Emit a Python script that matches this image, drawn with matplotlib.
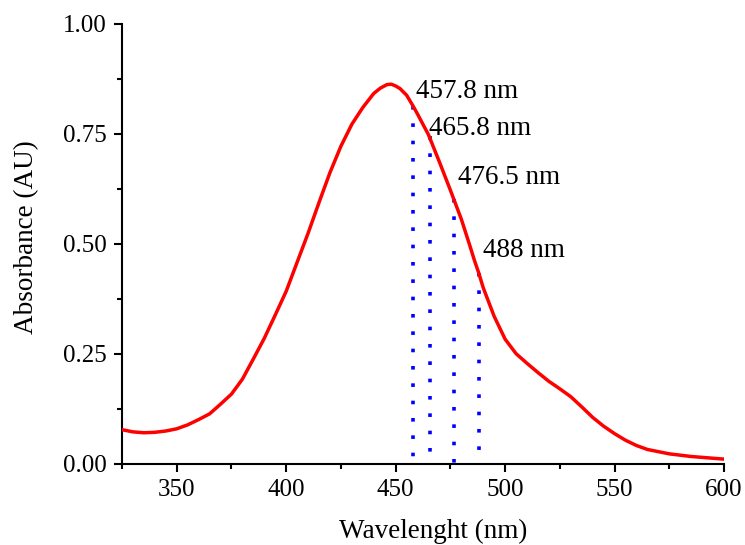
import matplotlib
matplotlib.use("Agg")
import matplotlib.pyplot as plt
from matplotlib.ticker import MultipleLocator, FormatStrFormatter

# absorption spectrum
wavelength = [325, 330, 335, 340, 345, 350, 355, 360, 365, 370,
              375, 380, 385, 390, 395, 400, 405, 410, 415, 420,
              425, 430, 435, 440, 443, 446, 448, 450, 452, 455,
              458, 460, 465, 470, 475, 480, 484, 486, 488, 490,
              495, 500, 505, 510, 515, 520, 525, 530, 535, 540,
              545, 550, 555, 560, 565, 570, 575, 580, 585, 590,
              595, 600]
absorbance = [0.077, 0.072, 0.070, 0.071, 0.074, 0.079, 0.088, 0.100, 0.113, 0.135,
              0.158, 0.192, 0.238, 0.285, 0.338, 0.392, 0.458, 0.524, 0.594, 0.662,
              0.722, 0.772, 0.810, 0.842, 0.854, 0.862, 0.863, 0.859, 0.853, 0.838,
              0.813, 0.795, 0.748, 0.686, 0.622, 0.556, 0.494, 0.462, 0.433, 0.400,
              0.335, 0.283, 0.250, 0.228, 0.207, 0.187, 0.170, 0.152, 0.129, 0.105,
              0.085, 0.068, 0.053, 0.041, 0.032, 0.027, 0.022, 0.019, 0.016, 0.014,
              0.012, 0.010]

# laser lines marked on the spectrum
laser_nm = [457.8, 465.8, 476.5, 488]
laser_abs = [0.813, 0.746, 0.602, 0.433]
laser_labels = ["457.8 nm", "465.8 nm", "476.5 nm", "488 nm"]
label_x = [459.2, 465.4, 478.6, 490.1]
label_y = [0.847, 0.763, 0.650, 0.485]

plt.rcParams['font.family'] = ['Liberation Serif', 'DejaVu Serif']

fig = plt.figure(figsize=(7.45, 5.45), dpi=100)
ax = fig.add_axes([0.1638, 0.1495, 0.8080, 0.8065])

ax.plot(wavelength, absorbance, color='#ff0000', lw=2.5, zorder=3)
# start the dotted lines at the curve so the top dot sits on it
ax.vlines(laser_nm, laser_abs, 0, colors='#0000ff', lw=2.6,
          linestyles=(0, (1.0, 3.8)), zorder=2)
for x, y, s in zip(label_x, label_y, laser_labels):
    ax.text(x, y, s, ha='left', va='center', fontsize=19.5)

ax.set_xlim(325, 600)
ax.set_ylim(0, 1.0)
ax.xaxis.set_major_locator(MultipleLocator(50))
ax.xaxis.set_minor_locator(MultipleLocator(25))
ax.yaxis.set_major_locator(MultipleLocator(0.25))
ax.yaxis.set_minor_locator(MultipleLocator(0.125))
ax.yaxis.set_major_formatter(FormatStrFormatter('%.2f'))

for side in ['top', 'right']:
    ax.spines[side].set_visible(False)
for side in ['left', 'bottom']:
    ax.spines[side].set_linewidth(1.5)
ax.tick_params(which='major', length=6, width=1.5, pad=5, labelsize=18)
ax.tick_params(which='minor', length=3.5, width=1.5)

ax.set_xlabel('Wavelenght (nm)', fontsize=19.5, va='center')
ax.set_ylabel('Absorbance (AU)', fontsize=19.5, va='center', ha='center')
ax.xaxis.set_label_coords(0.517, -0.1536)
ax.yaxis.set_label_coords(-0.158, 0.515)

fig.savefig('out.png', dpi=100)
